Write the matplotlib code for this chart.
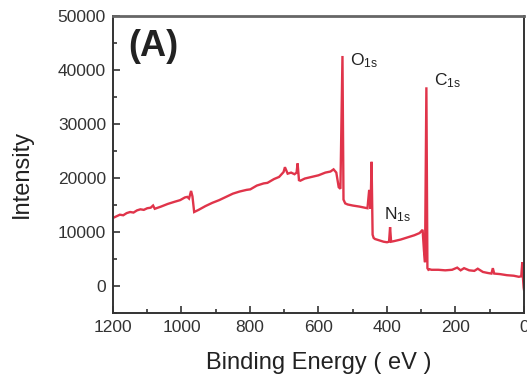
import matplotlib
matplotlib.use("Agg")
import matplotlib.pyplot as plt
from matplotlib.ticker import MultipleLocator

plt.rcParams['font.family'] = ['Liberation Sans', 'DejaVu Sans']
plt.rcParams['mathtext.fontset'] = 'custom'
plt.rcParams['mathtext.rm'] = 'Liberation Sans'
plt.rcParams['mathtext.it'] = 'Liberation Sans'

# Survey XPS spectrum (binding energy in eV, intensity in counts)
energy = [1200, 1190, 1180, 1170, 1160, 1150, 1140, 1130, 1120, 1110,
          1100, 1090, 1083, 1078, 1060, 1040, 1020, 1004, 990, 983,
          978, 972, 968, 963, 950, 930, 910, 890, 870, 850,
          830, 810, 799, 780, 760, 749, 730, 715, 702, 698,
          690, 680, 670, 664, 661, 657, 653, 640, 620, 600,
          580, 565, 556, 548, 541, 536, 530, 527, 522, 515,
          500, 480, 465, 457, 452, 448, 445, 442, 439, 435,
          425, 410, 400, 394, 391, 388, 380, 360, 340, 320,
          305, 296, 292, 289, 285, 282, 279, 276, 270, 250,
          230, 210, 195, 185, 175, 160, 145, 135, 120, 105,
          95, 91, 87, 70, 50, 30, 15, 8, 5, 3, 1, 0]
intensity = [12600, 12900, 13200, 13100, 13500, 13700, 13600, 14000, 14200, 14100,
             14400, 14500, 14900, 14300, 14700, 15200, 15600, 15900, 16400, 16500,
             16200, 17600, 16600, 13700, 14100, 14800, 15400, 15900, 16500, 17100,
             17500, 17800, 17900, 18600, 19000, 19100, 19800, 20200, 21100, 22000,
             20800, 21000, 20700, 21000, 22700, 19600, 19500, 19900, 20200, 20500,
             21000, 21200, 21600, 21000, 18300, 18000, 42600, 16000, 15300, 15100,
             14900, 14700, 14500, 14400, 17800, 14300, 23000, 9500, 8900, 8700,
             8500, 8200, 8100, 8200, 10900, 8200, 8300, 8600, 9000, 9400,
             9800, 10400, 6500, 4400, 36800, 3300, 3000, 3100, 3000, 3000,
             2900, 3000, 3400, 2900, 3300, 2900, 2800, 3200, 2600, 2400,
             2300, 3300, 2300, 2200, 2000, 1900, 1700, 1800, 4400, 1500, -300, -700]

peak_names = ["O$_{1s}$", "N$_{1s}$", "C$_{1s}$"]
peak_pos = [509, 410, 263]
peak_y = [41800, 13300, 38000]

fig = plt.figure(figsize=(5.27, 3.76), dpi=100)
ax = fig.add_axes([0.2144, 0.1676, 0.9943 - 0.2144, 0.9574 - 0.1676])
ax.plot(energy, intensity, color='#e0344a', lw=1.7, solid_joinstyle='miter')

ax.set_xlim(1200, 0)
ax.set_ylim(-5000, 50000)
ax.xaxis.set_major_locator(MultipleLocator(200))
ax.xaxis.set_minor_locator(MultipleLocator(100))
ax.yaxis.set_major_locator(MultipleLocator(10000))
ax.yaxis.set_minor_locator(MultipleLocator(5000))
ax.tick_params(which='both', direction='in', colors='#333333', labelsize=12.5,
               top=False, right=False, width=1.2)
ax.tick_params(which='major', length=5, pad=5)
ax.tick_params(which='minor', length=3)
for s in ax.spines.values():
    s.set_color('#333333')
    s.set_linewidth(1.4)
ax.spines['top'].set_color('#666666')
ax.spines['top'].set_linewidth(2)

ax.set_xlabel('Binding Energy ( eV )', fontsize=17, color='#222222', labelpad=12)
ax.set_ylabel('Intensity', fontsize=17, color='#222222', labelpad=18)
ax.yaxis.label.set_y(0.468)

ax.text(1156, 44400, '(A)', fontsize=26, fontweight='bold', color='#222222',
        va='center', ha='left')
for name, x, y in zip(peak_names, peak_pos, peak_y):
    ax.text(x, y, name, fontsize=12.5, color='#222222', va='center', ha='left')

fig.savefig('out.png', dpi=100)
